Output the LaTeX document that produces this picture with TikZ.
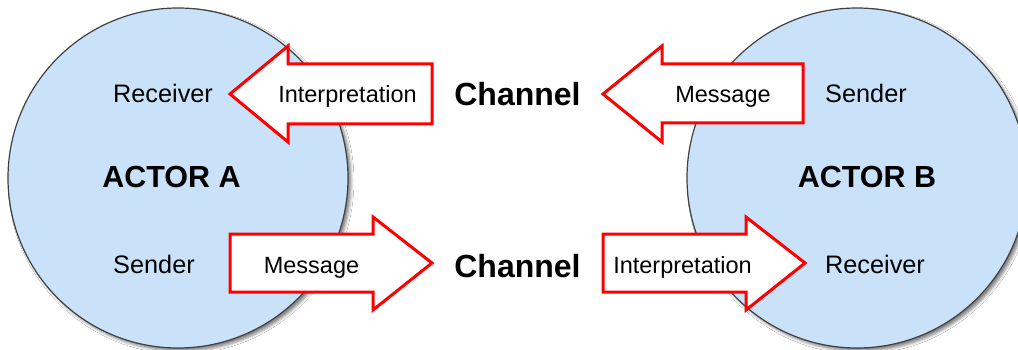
\documentclass[tikz,border=0pt]{standalone}
\usepackage{fontspec}
\setmainfont{Liberation Sans}
\usetikzlibrary{shadows.blur}
\definecolor{actorfill}{RGB}{201,226,250}
\definecolor{actorline}{RGB}{64,64,64}
\definecolor{arrowred}{RGB}{255,0,0}
\begin{document}
\begin{tikzpicture}[x=1pt,y=-1pt,
 actor/.style={circle, draw=actorline, line width=1.2pt, fill=actorfill, minimum size=340pt, inner sep=0pt, outer sep=0pt,
   blur shadow={shadow xshift=3pt, shadow yshift=-3pt, shadow blur radius=3pt, shadow opacity=50}},
 bigarrow/.style={draw=arrowred, line width=3pt, fill=white, line join=miter},
 role/.style={anchor=base, inner sep=0pt, font=\fontsize{25.3}{30}\selectfont},
 msg/.style={anchor=base, inner sep=0pt, font=\fontsize{23.5}{28}\selectfont},
 chan/.style={anchor=base, inner sep=0pt, font=\fontsize{32}{38}\selectfont\bfseries},
 actorlabel/.style={anchor=base, inner sep=0pt, font=\fontsize{30.5}{36}\selectfont\bfseries}]
\clip (0,0) rectangle (1018,350);
\fill[white] (0,0) rectangle (1018,350);
% actors
\node[actor] (A) at (178,178) {};
\node[actor] (B) at (857,178) {};
% block arrows
\draw[bigarrow] (230,94) -- (288,46) -- (288,64) -- (432,64) -- (432,124) -- (288,124) -- (288,142) -- cycle;
\draw[bigarrow] (230,234) -- (373,234) -- (373,217) -- (432,263) -- (373,310) -- (373,292) -- (230,292) -- cycle;
\draw[bigarrow] (603,94) -- (662,46) -- (662,64) -- (803,64) -- (803,123) -- (662,123) -- (662,142) -- cycle;
\draw[bigarrow] (603,234) -- (746,234) -- (746,217) -- (805,263) -- (746,310) -- (746,292) -- (603,292) -- cycle;
% labels
\node[actorlabel] (actA) at (171.5,188) {ACTOR A};
\node[actorlabel] (actB) at (867,188) {ACTOR B};
\node[role] (recA) at (163,103) {Receiver};
\node[role] (sendA) at (154,273) {Sender};
\node[role] (sendB) at (866,103) {Sender};
\node[role] (recB) at (875,273) {Receiver};
\node[msg] (intA) at (347.5,103) {Interpretation};
\node[msg] (msgA) at (311.5,273) {Message};
\node[msg] (msgB) at (723,103) {Message};
\node[msg] (intB) at (682.5,273) {Interpretation};
\node[chan] (ch1) at (517.5,106) {Channel};
\node[chan] (ch2) at (517.5,277) {Channel};
\end{tikzpicture}
\end{document}
